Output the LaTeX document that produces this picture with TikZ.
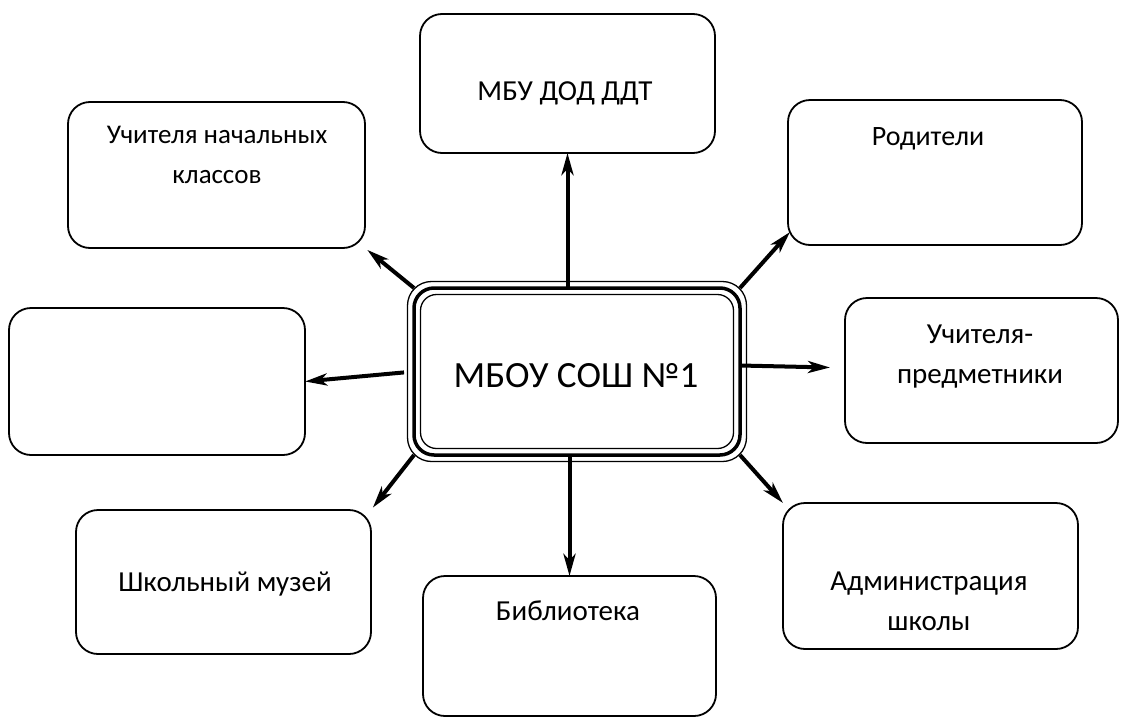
\documentclass[tikz,border=0pt]{standalone}
\usepackage{fontspec}
\setmainfont{Carlito}
\usetikzlibrary{arrows.meta,calc}
\begin{document}
\begin{tikzpicture}[x=1pt,y=-1pt,
  box/.style={draw,line width=1.8pt,rounded corners=22pt,inner sep=0pt,outer sep=0pt},
  lbl/.style={font=\fontsize{29}{40}\selectfont,align=center,inner sep=0pt,anchor=base},
  arr/.style={line width=4pt,-{Stealth[length=22pt,width=12pt,inset=6pt]}}]
\useasboundingbox[fill=white] (0,0) rectangle (1128,718);
% outer boxes
\node[box,minimum width=295pt,minimum height=139pt] (ddt) at (567.5,83.5) {};
\node[box,minimum width=297pt,minimum height=146pt] (nach) at (216.5,175) {};
\node[box,minimum width=294pt,minimum height=145pt] (rod) at (935,172.5) {};
\node[box,minimum width=296pt,minimum height=147pt] (emp) at (157,381.5) {};
\node[box,minimum width=273pt,minimum height=145pt] (pred) at (981.5,370.5) {};
\node[box,minimum width=295pt,minimum height=144pt] (muz) at (223.5,582) {};
\node[box,minimum width=293pt,minimum height=140pt] (bib) at (569.5,646) {};
\node[box,minimum width=295pt,minimum height=146pt] (adm) at (930.5,576) {};
% centre box with triple border
\node[draw,line width=3.5pt,rounded corners=20pt,inner sep=0pt,outer sep=0pt,
      minimum width=326pt,minimum height=167pt] (c) at (577,371.5) {};
\draw[line width=1.3pt,rounded corners=24pt] ($(c.north west)+(-6.5,-6.5)$) rectangle ($(c.south east)+(6.5,6.5)$);
\draw[line width=1.3pt,rounded corners=16pt] ($(c.north west)+(6.5,6.5)$) rectangle ($(c.south east)+(-6.5,-6.5)$);
% labels
\node[lbl,font=\fontsize{37}{40}\selectfont] (tc) at (576,387) {МБОУ СОШ №1};
\node[lbl] (tddt) at (565,100) {МБУ ДОД ДДТ};
\node[lbl,font=\fontsize{27}{40}\selectfont] (tnach) at (217,183) {Учителя начальных\\классов};
\node[lbl,font=\fontsize{28}{40}\selectfont] (trod) at (928,145) {Родители};
\node[lbl] (tpred) at (980,383) {Учителя-\\предметники};
\node[lbl] (tmuz) at (225,591) {Школьный музей};
\node[lbl] (tbib) at (568,620) {Библиотека};
\node[lbl] (tadm) at (929,630) {Администрация\\школы};
% connectors
\draw[arr] (c.north -| ddt.south) -- (ddt.south);
\draw[arr,shorten >=3pt] (c.north west) -- (nach.south east);
\draw[arr] (c.north east) -- ($(rod.south west)+(2,-13)$);
\draw[arr] ($(c.east)+(0,-6)$) -- ($(c.east -| pred.west)+(-15,-4)$);
\draw[arr,shorten <=10pt] (c.west) -- (emp.east);
\draw[arr,shorten >=3pt] (c.south west) -- (muz.north east);
\draw[arr] (c.south -| bib.north) -- (bib.north);
\draw[arr] (c.south east) -- (adm.north west);
\end{tikzpicture}
\end{document}
